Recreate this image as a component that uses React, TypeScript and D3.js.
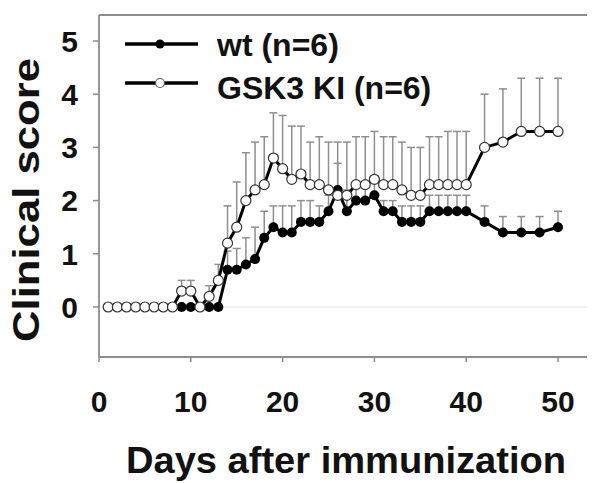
import React from "react";
import * as d3 from "d3";

const days = [1,2,3,4,5,6,7,8,9,10,11,12,13,14,15,16,17,18,19,20,21,22,23,24,25,26,27,28,29,30,31,32,33,34,35,36,37,38,39,40,42,44,46,48,50];
const wtMean = [0,0,0,0,0,0,0,0,0,0,0,0,0,0.7,0.7,0.8,0.9,1.3,1.5,1.4,1.4,1.6,1.6,1.6,1.8,2.2,1.8,2.0,2.0,2.1,1.8,1.8,1.6,1.6,1.6,1.8,1.8,1.8,1.8,1.8,1.6,1.4,1.4,1.4,1.5];
const wtErr = [0,0,0,0,0,0,0,0,0,0,0,0,0,0.35,0.4,0.5,0.6,0.5,0.4,0.5,0.5,0.4,0.4,0.3,0.3,0.5,0.4,0.3,0.3,0.3,0.2,0.2,0.3,0.3,0.3,0.3,0.3,0.3,0.3,0.3,0.3,0.3,0.3,0.3,0.3];
const kiMean = [0,0,0,0,0,0,0,0,0.3,0.3,0,0.2,0.5,1.2,1.5,2.0,2.2,2.3,2.8,2.6,2.4,2.5,2.3,2.3,2.2,2.1,2.1,2.3,2.3,2.4,2.3,2.3,2.2,2.1,2.1,2.3,2.3,2.3,2.3,2.3,3.0,3.1,3.3,3.3,3.3];
const kiErr = [0,0,0,0,0,0,0,0,0.2,0.2,0,0.2,0.3,0.7,0.85,0.9,0.9,0.9,0.85,1.0,1.0,0.9,0.8,0.9,0.9,1.0,1.0,0.9,0.9,0.9,0.9,0.9,0.9,0.9,0.9,0.9,0.9,1.0,1.0,1.0,1.0,1.0,1.0,1.0,1.0];

const xTicks = [0, 10, 20, 30, 40, 50];
const yTicks = [0, 1, 2, 3, 4, 5];
const legendLabels = ["wt (n=6)", "GSK3 KI (n=6)"];
const xTitle = "Days after immunization";
const yTitle = "Clinical score";

const FONT = "'Liberation Sans', Arial, Helvetica, sans-serif";

export default function App() {
  const x = d3.scaleLinear().domain([0, 50]).range([99, 558]);
  const y = d3.scaleLinear().domain([0, 5]).range([307, 41]);
  const left = 99, right = 587, top = 15, bottom = 357;
  const axisColor = "#8c8c8c";
  const errColor = "#8f8f8f";

  const wt = days.map((d, i) => ({ d, m: wtMean[i], e: wtErr[i] }));
  const ki = days.map((d, i) => ({ d, m: kiMean[i], e: kiErr[i] }));
  const line = d3.line<{ d: number; m: number }>().x(p => x(p.d)).y(p => y(p.m));

  const errBars = (data: { d: number; m: number; e: number }[], key: string) =>
    data.filter(p => p.e > 0).map((p, i) => (
      <g key={key + i} stroke={errColor} strokeWidth={1.5}>
        <line x1={x(p.d)} x2={x(p.d)} y1={y(p.m)} y2={y(p.m + p.e)} />
        <line x1={x(p.d) - 4} x2={x(p.d) + 4} y1={y(p.m + p.e)} y2={y(p.m + p.e)} />
      </g>
    ));

  return (
    <svg width={601} height={483} style={{ position: "absolute", left: 0, top: 0, background: "#fff" }}>
      <rect width={601} height={483} fill="#fff" />
      <line x1={left} x2={right} y1={y(0)} y2={y(0)} stroke="#e6e6e6" strokeWidth={1} />
      <line x1={left} x2={right} y1={top} y2={top} stroke={axisColor} strokeWidth={1.8} />
      <line x1={left} x2={right} y1={bottom} y2={bottom} stroke={axisColor} strokeWidth={1.8} />
      <line x1={left} x2={left} y1={top} y2={bottom} stroke={axisColor} strokeWidth={1.8} />
      {yTicks.map(t => (
        <g key={"yt" + t}>
          <line x1={left - 6} x2={left} y1={y(t)} y2={y(t)} stroke={axisColor} strokeWidth={1.5} />
          <text x={78} y={y(t)} dy="0.36em" textAnchor="end" fontFamily={FONT} fontWeight="bold" fontSize={30} fill="#111">{t}</text>
        </g>
      ))}
      {xTicks.map(t => (
        <g key={"xt" + t}>
          <line x1={x(t)} x2={x(t)} y1={bottom} y2={bottom + 5} stroke={axisColor} strokeWidth={1.5} />
          <text x={x(t)} y={412} textAnchor="middle" fontFamily={FONT} fontWeight="bold" fontSize={30} fill="#111">{t}</text>
        </g>
      ))}
      <text x={346} y={473} textAnchor="middle" fontFamily={FONT} fontWeight="bold" fontSize={37} textLength={440} lengthAdjust="spacingAndGlyphs" fill="#111">{xTitle}</text>
      <text transform="translate(39,200) rotate(-90)" textAnchor="middle" fontFamily={FONT} fontWeight="bold" fontSize={36} textLength={284} lengthAdjust="spacingAndGlyphs" fill="#111">{yTitle}</text>

      {errBars(wt, "we")}
      {errBars(ki, "ke")}

      <path d={line(wt) || ""} fill="none" stroke="#000" strokeWidth={3} />
      {wt.map((p, i) => <circle key={"wc" + i} cx={x(p.d)} cy={y(p.m)} r={5} fill="#000" />)}
      <path d={line(ki) || ""} fill="none" stroke="#000" strokeWidth={3} />
      {ki.map((p, i) => <circle key={"kc" + i} cx={x(p.d)} cy={y(p.m)} r={5} fill="#fff" stroke="#333" strokeWidth={1.2} />)}

      <line x1={125} x2={198} y1={44} y2={44} stroke="#000" strokeWidth={3.5} />
      <circle cx={160} cy={44} r={4.5} fill="#000" />
      <text x={217} y={56} fontFamily={FONT} fontWeight="bold" fontSize={32} fill="#111">{legendLabels[0]}</text>
      <line x1={125} x2={198} y1={83} y2={83} stroke="#000" strokeWidth={3.5} />
      <circle cx={160} cy={83} r={4.5} fill="#fff" stroke="#555" strokeWidth={1.2} />
      <text x={217} y={99} fontFamily={FONT} fontWeight="bold" fontSize={32} fill="#111">{legendLabels[1]}</text>
    </svg>
  );
}
